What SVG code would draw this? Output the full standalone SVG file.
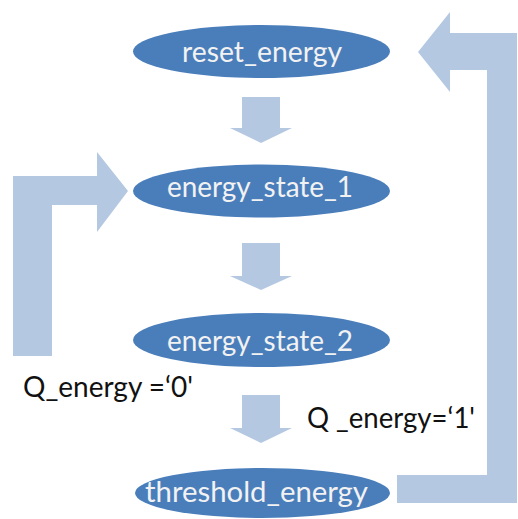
<svg xmlns="http://www.w3.org/2000/svg" width="518" height="519" viewBox="0 0 518 519">
<style>
.node{fill:#4a7ebb}
.ntxt{fill:#f2f2f2;font-family:Lato,"Liberation Sans",sans-serif;font-size:29px;text-anchor:middle}
.lbl{fill:#111;font-family:Lato,"Liberation Sans",sans-serif;font-size:29px}
.arr{fill:#b4c8e2}
</style>
<rect width="518" height="519" fill="#ffffff"/>
<g id="connectors">
<polygon class="arr" points="242,97 280,97 280,128 292,128 261,143 230,128 242,128"/>
<polygon class="arr" points="242,243 280,243 280,276 292,276 261,290 230,276 242,276"/>
<polygon class="arr" points="242,395 280,395 280,428 292,428 261,443 230,428 242,428"/>
<polygon class="arr" points="13,356 13,176 97,176 97,152 128,191 97,232 97,205 52,205 52,356"/>
<polygon class="arr" points="517,33 517,503 397,503 397,475 487,475 487,70 450,70 450,92 418,52 450,12 450,33"/>
</g>
<g id="reset_energy">
<ellipse class="node" cx="261.5" cy="51.5" rx="128.5" ry="26.5"/>
<text class="ntxt" x="262" y="62" textLength="160" lengthAdjust="spacingAndGlyphs">reset_energy</text>
</g>
<g id="energy_state_1">
<ellipse class="node" cx="261.5" cy="191" rx="128.5" ry="26.5"/>
<text class="ntxt" x="260" y="197" textLength="186" lengthAdjust="spacingAndGlyphs">energy_state_1</text>
</g>
<g id="energy_state_2">
<ellipse class="node" cx="261.5" cy="340" rx="128.5" ry="27"/>
<text class="ntxt" x="260" y="351" textLength="186" lengthAdjust="spacingAndGlyphs">energy_state_2</text>
</g>
<g id="threshold_energy">
<ellipse class="node" cx="262.5" cy="493" rx="127.5" ry="25"/>
<text class="ntxt" x="256.5" y="502" textLength="223" lengthAdjust="spacingAndGlyphs">threshold_energy</text>
</g>
<g id="labels">
<text class="lbl" x="23" y="397" textLength="170" lengthAdjust="spacingAndGlyphs">Q_energy =‘0'</text>
<text class="lbl" x="307" y="428" textLength="168" lengthAdjust="spacingAndGlyphs">Q _energy=‘1'</text>
</g>
</svg>
